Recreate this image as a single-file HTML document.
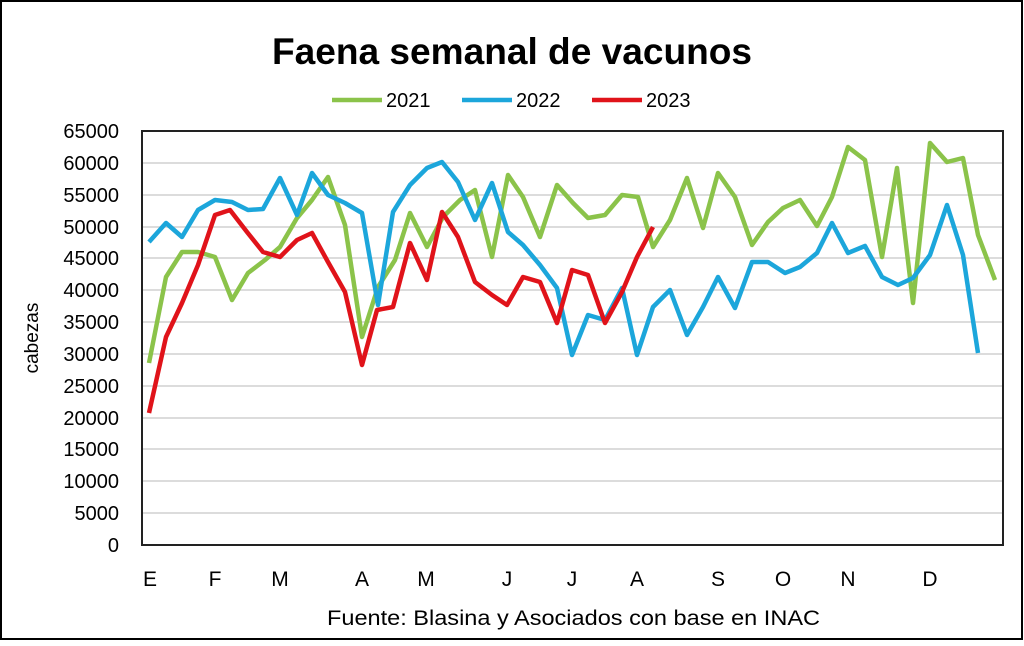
<!DOCTYPE html><html><head><style>body{margin:0;background:#fff}</style></head><body>
<svg width="1024" height="641" xmlns="http://www.w3.org/2000/svg" font-family="Liberation Sans, sans-serif">
<rect x="1" y="1" width="1021" height="638" fill="#fff" stroke="#000" stroke-width="2"/>
<text x="272" y="64" font-size="37" font-weight="bold" textLength="480" lengthAdjust="spacingAndGlyphs">Faena semanal de vacunos</text>
<g font-size="20">
<line x1="332" y1="100" x2="382" y2="100" stroke="#8BC34A" stroke-width="4.5"/><text x="386" y="107">2021</text>
<line x1="462" y1="100" x2="512" y2="100" stroke="#1CA6DB" stroke-width="4.5"/><text x="516" y="107">2022</text>
<line x1="592" y1="100" x2="642" y2="100" stroke="#E0131A" stroke-width="4.5"/><text x="646" y="107">2023</text>
</g>
<g stroke="#d0d0d0" stroke-width="1.5">
<line x1="142" y1="131" x2="1003" y2="131"/><line x1="142" y1="163" x2="1003" y2="163"/><line x1="142" y1="195" x2="1003" y2="195"/><line x1="142" y1="227" x2="1003" y2="227"/><line x1="142" y1="258" x2="1003" y2="258"/><line x1="142" y1="290" x2="1003" y2="290"/><line x1="142" y1="322" x2="1003" y2="322"/><line x1="142" y1="354" x2="1003" y2="354"/><line x1="142" y1="386" x2="1003" y2="386"/><line x1="142" y1="418" x2="1003" y2="418"/><line x1="142" y1="449" x2="1003" y2="449"/><line x1="142" y1="481" x2="1003" y2="481"/><line x1="142" y1="513" x2="1003" y2="513"/><line x1="142" y1="545" x2="1003" y2="545"/>
</g>
<rect x="142" y="131" width="861" height="414" fill="none" stroke="#222" stroke-width="2"/>
<g font-size="20" text-anchor="end">
<text x="119" y="138">65000</text><text x="119" y="170">60000</text><text x="119" y="202">55000</text><text x="119" y="234">50000</text><text x="119" y="265">45000</text><text x="119" y="297">40000</text><text x="119" y="329">35000</text><text x="119" y="361">30000</text><text x="119" y="393">25000</text><text x="119" y="425">20000</text><text x="119" y="456">15000</text><text x="119" y="488">10000</text><text x="119" y="520">5000</text><text x="119" y="552">0</text>
</g>
<text transform="translate(38,338) rotate(-90)" text-anchor="middle" font-size="19">cabezas</text>
<g font-size="21" text-anchor="middle">
<text x="150" y="586">E</text><text x="215" y="586">F</text><text x="280" y="586">M</text><text x="362" y="586">A</text><text x="426" y="586">M</text><text x="507" y="586">J</text><text x="572" y="586">J</text><text x="637" y="586">A</text><text x="718" y="586">S</text><text x="783" y="586">O</text><text x="848" y="586">N</text><text x="930" y="586">D</text>
</g>
<text x="327" y="625" font-size="21" textLength="493" lengthAdjust="spacingAndGlyphs">Fuente: Blasina y Asociados con base en INAC</text>
<g fill="none" stroke-width="4.5" stroke-linejoin="round">
<polyline stroke="#8BC34A" points="149,363 166,277 182,252 198,252 215,257 232,300 248,273 265,260 280,247 297,218 312,200 328,177 345,225 362,337 378,287 395,260 410,213 427,247 443,217 460,200 475,190 492,257 508,175 523,197 540,237 557,185 573,203 588,218 605,215 622,195 638,197 653,247 670,220 687,178 703,228 718,173 735,197 752,245 768,222 783,208 800,200 817,226 832,197 848,147 865,160 882,257 897,168 913,303 930,143 947,162 963,158 978,235 995,280"/>
<polyline stroke="#1CA6DB" points="149,242 166,223 182,237 198,210 215,200 232,202 248,210 263,209 280,178 297,215 312,173 328,195 345,203 362,213 378,305 393,212 410,185 427,168 442,162 458,182 475,220 492,183 508,232 523,245 540,265 557,288 572,355 588,315 605,320 622,288 637,355 653,307 670,290 687,335 703,307 718,277 735,308 752,262 768,262 785,273 800,267 817,253 832,223 848,253 865,246 882,277 898,285 913,278 930,255 947,205 963,255 978,353"/>
<polyline stroke="#E0131A" points="149,413 166,337 182,303 198,265 215,215 230,210 247,232 263,252 280,257 297,240 312,233 328,262 345,292 362,365 377,310 393,307 410,243 427,280 442,212 458,237 475,282 492,295 507,305 523,277 540,282 557,323 572,270 588,275 605,323 622,292 637,257 653,227"/>
</g>
</svg>
</body></html>
